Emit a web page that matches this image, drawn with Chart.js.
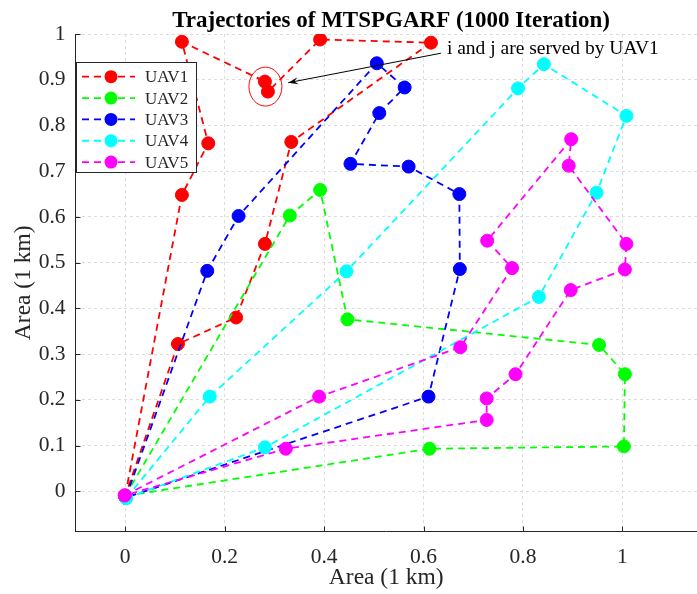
<!DOCTYPE html>
<html><head><meta charset="utf-8">
<script src="https://cdn.jsdelivr.net/npm/chart.js@4.4.1/dist/chart.umd.min.js"></script>
<style>html,body{margin:0;padding:0;background:#fff;overflow:hidden;} #wrap{width:697px;height:594px;position:relative;}</style>
</head><body><div id="wrap"><canvas id="c" width="697" height="594"></canvas></div>
<script>
// ---- data ----
const chartTitle = 'Trajectories of MTSPGARF (1000 Iteration)';
const xAxisTitle = 'Area (1 km)';
const yAxisTitle = 'Area (1 km)';
const seriesNames = ['UAV1', 'UAV2', 'UAV3', 'UAV4', 'UAV5'];
const seriesColors = ['#ff0000', '#00ff00', '#0000ff', '#00ffff', '#ff00ff'];

const uav1X = [0.000, 0.114, 0.167, 0.114, 0.281, 0.287, 0.392, 0.615, 0.334, 0.281, 0.223, 0.106, 0.000];
const uav1Y = [-0.010, 0.648, 0.761, 0.983, 0.896, 0.874, 0.988, 0.981, 0.764, 0.541, 0.380, 0.322, -0.010];

const uav2X = [0.000, 0.331, 0.392, 0.447, 0.953, 1.005, 1.003, 0.612, 0.000];
const uav2Y = [-0.010, 0.603, 0.659, 0.376, 0.320, 0.256, 0.098, 0.093, -0.010];

const uav3X = [0.001, 0.165, 0.228, 0.506, 0.562, 0.511, 0.453, 0.570, 0.672, 0.673, 0.610, 0.001];
const uav3Y = [-0.014, 0.482, 0.602, 0.936, 0.883, 0.827, 0.716, 0.710, 0.650, 0.486, 0.207, -0.014];

const uav4X = [0.002, 0.170, 0.445, 0.790, 0.842, 1.008, 0.948, 0.832, 0.281, 0.002];
const uav4Y = [-0.015, 0.207, 0.481, 0.881, 0.934, 0.821, 0.653, 0.425, 0.096, -0.015];

const uav5X = [-0.001, 0.390, 0.674, 0.778, 0.728, 0.897, 0.892, 1.008, 1.005, 0.896, 0.785, 0.727, 0.727, 0.323, -0.001];
const uav5Y = [-0.009, 0.207, 0.315, 0.488, 0.548, 0.770, 0.712, 0.541, 0.485, 0.440, 0.256, 0.203, 0.156, 0.093, -0.009];

const xTickValues = [0, 0.2, 0.4, 0.6, 0.8, 1];
const yTickValues = [0, 0.1, 0.2, 0.3, 0.4, 0.5, 0.6, 0.7, 0.8, 0.9, 1];

const annotationText = 'i and j are served by UAV1';
const annotationTextAt = [0.647, 0.956];
const arrowFrom = [0.635, 0.958];
const arrowTo = [0.328, 0.8935];
const circledAt = [0.282, 0.885];

// ---- build ----
const xs = [uav1X, uav2X, uav3X, uav4X, uav5X];
const ys = [uav1Y, uav2Y, uav3Y, uav4Y, uav5Y];
const datasets = seriesNames.map((name, i) => ({
  label: name,
  data: xs[i].map((x, k) => ({x: x, y: ys[i][k]})),
  showLine: true,
  borderColor: seriesColors[i],
  backgroundColor: seriesColors[i],
  pointBackgroundColor: seriesColors[i],
  pointBorderColor: seriesColors[i],
  borderWidth: 1.8,
  borderDash: [7, 5],
  pointRadius: 6.5,
  pointBorderWidth: 1,
  pointHoverRadius: 6.5,
  order: seriesNames.length - i,
  tension: 0
}));

const fmt = v => String(Math.round(v * 10) / 10);
const serif = 'Liberation Serif, Times New Roman, serif';
const axisColor = '#262626';

const overlay = {
  id: 'overlay',
  afterDraw(chart) {
    const {ctx, chartArea: a, scales: {x, y}} = chart;
    ctx.save();
    // inward tick marks
    ctx.strokeStyle = axisColor; ctx.lineWidth = 1; ctx.setLineDash([]);
    xTickValues.forEach(v => { const px = Math.round(x.getPixelForValue(v)) + 0.5; ctx.beginPath(); ctx.moveTo(px, a.bottom); ctx.lineTo(px, a.bottom - 5); ctx.stroke(); });
    yTickValues.forEach(v => { const py = Math.round(y.getPixelForValue(v)) + 0.5; ctx.beginPath(); ctx.moveTo(a.left, py); ctx.lineTo(a.left + 5, py); ctx.stroke(); });

    // ellipse around i and j
    ctx.strokeStyle = '#ff0000'; ctx.lineWidth = 1;
    ctx.beginPath();
    ctx.ellipse(x.getPixelForValue(circledAt[0]), y.getPixelForValue(circledAt[1]), 16.5, 19.5, 0, 0, Math.PI * 2);
    ctx.stroke();

    // arrow
    const x0 = x.getPixelForValue(arrowFrom[0]), y0 = y.getPixelForValue(arrowFrom[1]);
    const x1 = x.getPixelForValue(arrowTo[0]), y1 = y.getPixelForValue(arrowTo[1]);
    ctx.strokeStyle = '#000'; ctx.fillStyle = '#000'; ctx.lineWidth = 1;
    ctx.beginPath(); ctx.moveTo(x0, y0); ctx.lineTo(x1, y1); ctx.stroke();
    const ang = Math.atan2(y1 - y0, x1 - x0);
    const L = 10, W = 3.5;
    ctx.beginPath();
    ctx.moveTo(x1, y1);
    ctx.lineTo(x1 - L * Math.cos(ang) + W * Math.sin(ang), y1 - L * Math.sin(ang) - W * Math.cos(ang));
    ctx.lineTo(x1 - 0.6 * L * Math.cos(ang), y1 - 0.6 * L * Math.sin(ang));
    ctx.lineTo(x1 - L * Math.cos(ang) - W * Math.sin(ang), y1 - L * Math.sin(ang) + W * Math.cos(ang));
    ctx.closePath(); ctx.fill();

    // annotation text
    ctx.font = '19.5px ' + serif; ctx.fillStyle = '#000'; ctx.textAlign = 'left'; ctx.textBaseline = 'alphabetic';
    ctx.fillText(annotationText, x.getPixelForValue(annotationTextAt[0]), y.getPixelForValue(annotationTextAt[1]));

    // legend
    const bx = 76.5, by = 62.5, bw = 120, bh = 110;
    ctx.fillStyle = '#fff'; ctx.fillRect(bx, by, bw, bh);
    ctx.strokeStyle = axisColor; ctx.lineWidth = 1; ctx.strokeRect(bx, by, bw, bh);
    chart.data.datasets.forEach((ds, i) => {
      const cy = 76.7 + i * 21.35;
      ctx.strokeStyle = ds.borderColor; ctx.lineWidth = 1.8; ctx.setLineDash(ds.borderDash);
      ctx.beginPath(); ctx.moveTo(82, cy); ctx.lineTo(135, cy); ctx.stroke();
      ctx.setLineDash([]);
      ctx.fillStyle = ds.backgroundColor;
      ctx.beginPath(); ctx.arc(111, cy, 6.5, 0, Math.PI * 2); ctx.fill();
      ctx.fillStyle = axisColor; ctx.font = '17px ' + serif; ctx.textBaseline = 'middle';
      ctx.fillText(ds.label, 145, cy + 1);
    });

    // title
    ctx.fillStyle = '#000'; ctx.font = 'bold 23px ' + serif; ctx.textAlign = 'center'; ctx.textBaseline = 'alphabetic';
    ctx.fillText(chartTitle, 391, 27);
    ctx.restore();
  }
};

new Chart(document.getElementById('c'), {
  type: 'scatter',
  data: {datasets: datasets},
  options: {
    responsive: false,
    animation: false,
    devicePixelRatio: 1,
    layout: {autoPadding: false, padding: {top: 34, left: 0, right: 0, bottom: 0}},
    plugins: {legend: {display: false}, title: {display: false}, tooltip: {enabled: false}},
    scales: {
      x: {
        type: 'linear', min: -0.1, max: 1.15,
        afterBuildTicks: s => { s.ticks = xTickValues.map(v => ({value: v})); },
        afterFit: s => { s.height = 62.5; s.paddingLeft = 0; s.paddingRight = 0; },
        ticks: {font: {family: serif, size: 21.5}, color: axisColor, padding: 13, callback: v => fmt(v), maxRotation: 0, autoSkip: false},
        grid: {color: '#dcdcdc', lineWidth: 1, drawTicks: false},
        border: {display: true, color: axisColor, width: 1, dash: [3, 3]},
        title: {display: true, text: xAxisTitle, font: {family: serif, size: 23.5}, color: axisColor, padding: {top: 0, bottom: 2}}
      },
      y: {
        type: 'linear', min: -0.088, max: 1,
        afterBuildTicks: s => { s.ticks = yTickValues.map(v => ({value: v})); },
        afterFit: s => { s.width = 75.5; s.paddingTop = 0; s.paddingBottom = 0; },
        ticks: {font: {family: serif, size: 21.5}, color: axisColor, padding: 10, callback: v => fmt(v), autoSkip: false},
        grid: {color: '#dcdcdc', lineWidth: 1, drawTicks: false},
        border: {display: true, color: axisColor, width: 1, dash: [3, 3]},
        title: {display: true, text: yAxisTitle, font: {family: serif, size: 23.5}, color: axisColor, padding: {top: 10, bottom: 0}}
      }
    }
  },
  plugins: [overlay]
});
</script>
</body></html>
